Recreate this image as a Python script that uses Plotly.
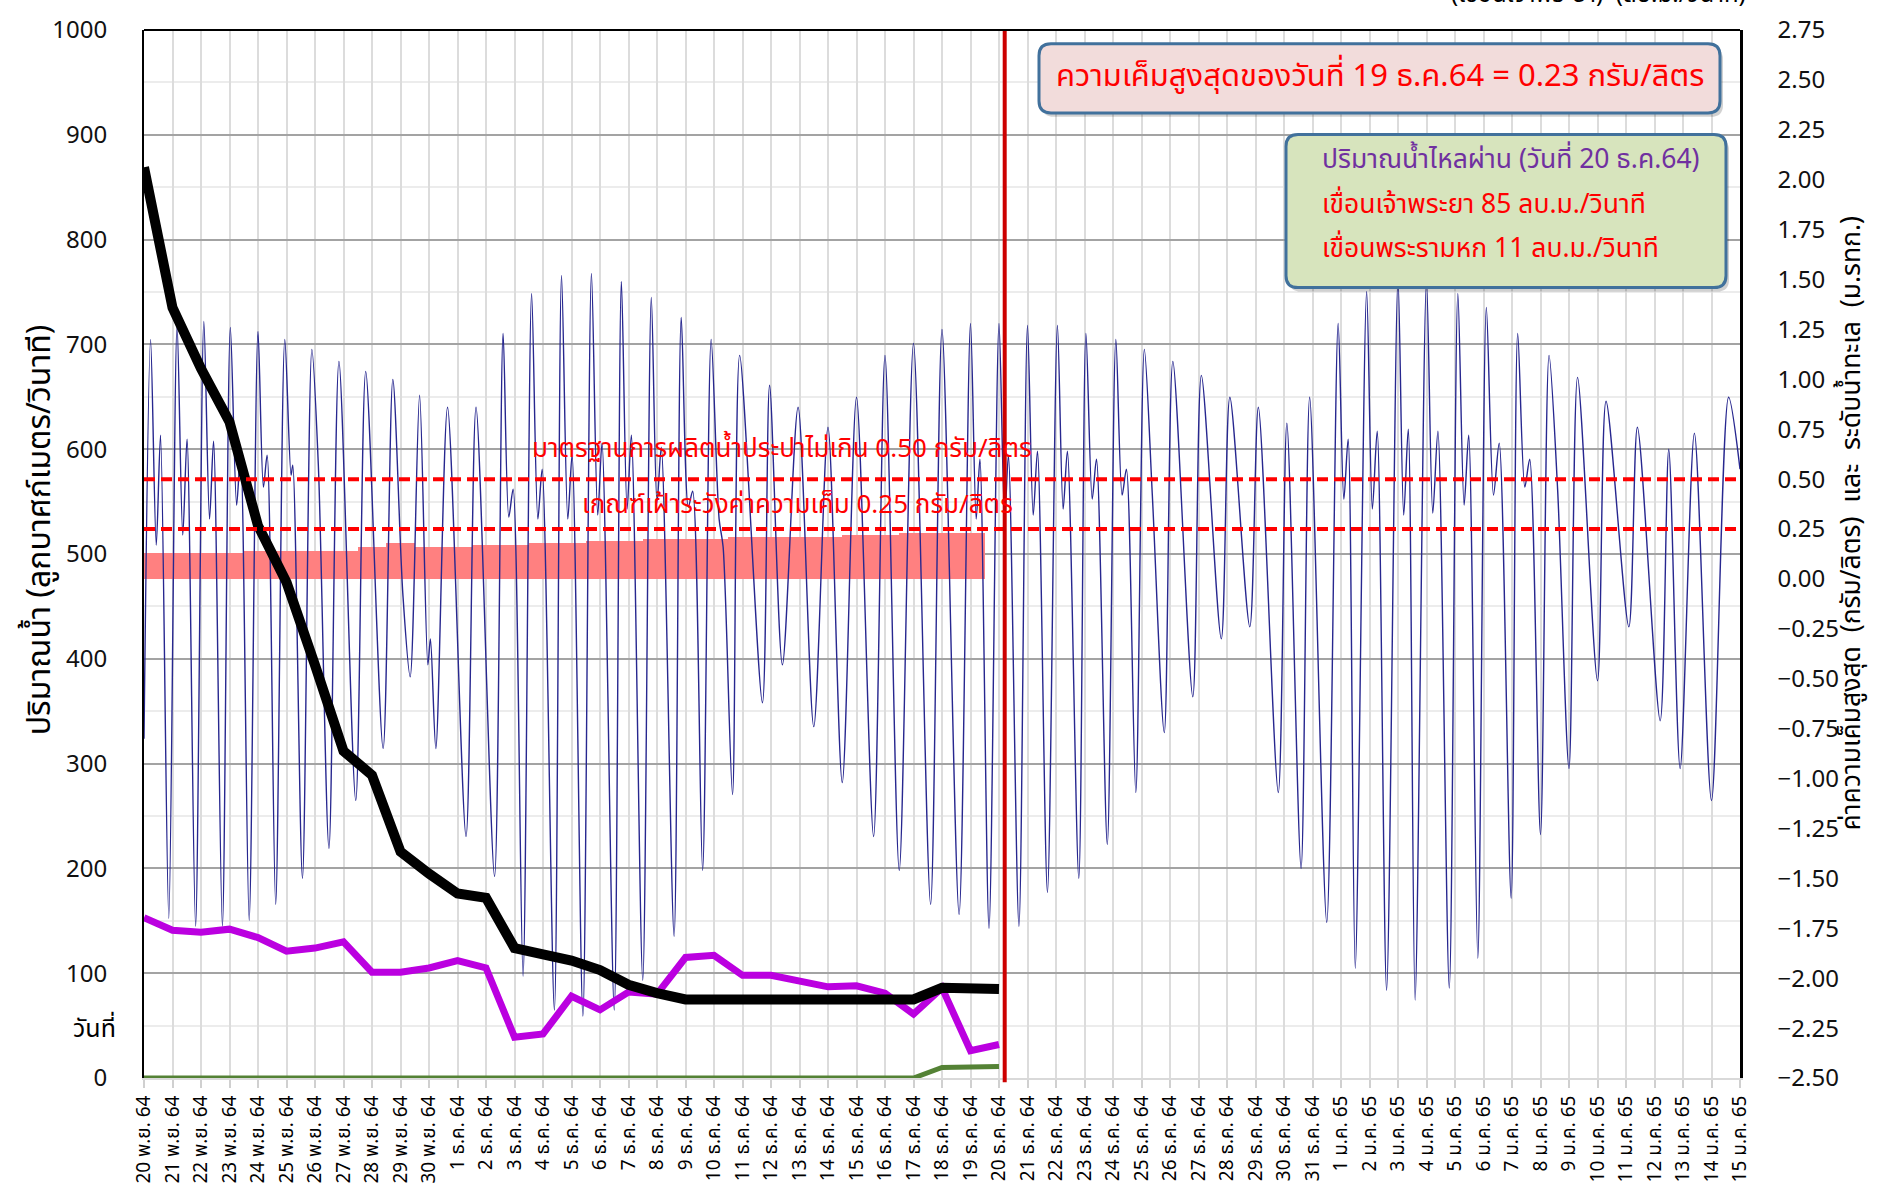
import plotly.graph_objects as go

# ---------------- calendar (20 Nov 2564 .. 15 Jan 2565) ----------------
nov_days = list(range(20, 31))
dec_days = list(range(1, 32))
jan_days = list(range(1, 16))
date_labels = ([f"{d} พ.ย. 64" for d in nov_days]
               + [f"{d} ธ.ค. 64" for d in dec_days]
               + [f"{d} ม.ค. 65" for d in jan_days])
day_index = list(range(len(date_labels)))

# ---------------- daily discharge (m3/s), 20 Nov - 20 Dec ----------------
flow_chao_phraya = [869, 735, 677, 626, 527, 473, 394, 312, 289, 216, 195,
                    176, 172, 124, 118, 112, 103, 89, 81, 75, 75, 75, 75, 75,
                    75, 75, 75, 75, 86, 85, 85]
flow_station_b = [153, 141, 139, 142, 134, 121, 124, 130, 101, 101, 105,
                  112, 105, 39, 42, 78, 65, 82, 80, 115, 117, 98, 98, 93,
                  87, 88, 81, 61, 86, 26, 32]
flow_rama6 = [0, 0, 0, 0, 0, 0, 0, 0, 0, 0, 0, 0, 0, 0, 0, 0, 0, 0, 0, 0,
              0, 0, 0, 0, 0, 0, 0, 0, 10, 10, 11]
flow_days = day_index[:len(flow_chao_phraya)]

# ---------------- daily maximum salinity (g/L), 20 Nov - 19 Dec ----------------
salinity = [0.13, 0.13, 0.13, 0.13, 0.14, 0.14, 0.14, 0.14, 0.16, 0.18,
            0.16, 0.16, 0.17, 0.17, 0.18, 0.18, 0.19, 0.19, 0.20, 0.20,
            0.20, 0.21, 0.21, 0.21, 0.21, 0.22, 0.22, 0.23, 0.23, 0.23]
salinity_days = day_index[:len(salinity)]

# ---------------- sea level turning points (day offset, m MSL) ----------------
tide_day = [0.00,
            0.23, 0.43, 0.58, 0.87,
            1.16, 1.36, 1.51, 1.81,
            2.10, 2.30, 2.44, 2.75,
            3.03, 3.25, 3.39, 3.69,
            4.00, 4.19, 4.32, 4.62,
            4.94, 5.16, 5.22, 5.56,
            5.89, 6.12, 6.49,
            6.84, 7.43,
            7.78, 8.39,
            8.73, 9.08, 9.34,
            9.67, 9.96, 10.05, 10.24,
            10.65, 11.30, 11.65, 12.30,
            12.60, 12.80, 12.95, 13.30,
            13.60, 13.82, 13.97, 14.40,
            14.65, 14.87, 15.02, 15.40,
            15.70, 15.92, 16.07, 16.50,
            16.75, 16.95, 17.10, 17.50,
            17.80, 18.00, 18.15, 18.60,
            18.85, 19.10, 19.25, 19.60,
            19.90, 20.18, 20.32, 20.65,
            20.90, 21.70, 21.95, 22.40,
            22.95, 23.50, 24.00, 24.50, 25.00, 25.60, 26.00, 26.50,
            27.00, 27.60, 28.00, 28.60,
            29.00, 29.20, 29.33, 29.65,
            30.00, 30.20, 30.33, 30.70,
            31.00, 31.20, 31.35, 31.70,
            32.05, 32.25, 32.40, 32.80,
            33.05, 33.27, 33.42, 33.80,
            34.10, 34.32, 34.47, 34.80,
            35.10, 35.38, 35.80,
            36.10, 36.80, 37.10, 37.80, 38.10, 38.80, 39.10, 39.80,
            40.10, 40.60, 40.90, 41.50,
            41.90, 42.10, 42.25, 42.50,
            42.90, 43.10, 43.27, 43.60,
            44.00, 44.20, 44.36, 44.60,
            45.00, 45.22, 45.40, 45.80,
            46.10, 46.32, 46.48, 46.80,
            47.10, 47.35, 47.55, 47.97,
            48.20, 48.45, 48.62, 49.00,
            49.30, 49.60, 50.00,
            50.30, 51.00, 51.30, 52.10, 52.40, 53.20, 53.50, 53.90,
            54.40, 55.00, 55.60, 56.00]
tide_level = [-0.80,
              1.20, 0.17, 0.72, -1.70,
              1.27, 0.22, 0.70, -1.74,
              1.29, 0.30, 0.69, -1.74,
              1.26, 0.37, 0.64, -1.71,
              1.24, 0.46, 0.62, -1.63,
              1.20, 0.52, 0.57, -1.50,
              1.15, 0.56, -1.35,
              1.09, -1.11,
              1.04, -0.85,
              1.00, -0.07, -0.49,
              0.92, -0.43, -0.30, -0.85,
              0.86, -1.29, 0.86, -1.49,
              1.23, 0.31, 0.45, -1.99,
              1.43, 0.30, 0.55, -2.16,
              1.52, 0.30, 0.62, -2.19,
              1.53, 0.32, 0.68, -2.16,
              1.49, 0.35, 0.72, -2.01,
              1.41, 0.38, 0.66, -1.79,
              1.31, 0.36, 0.44, -1.46,
              1.20, 0.30, 0.16, -1.08,
              1.12, -0.62, 0.97, -0.43,
              0.86, -0.74, 0.76, -1.02, 0.91, -1.29, 1.12, -1.46,
              1.18, -1.63, 1.25, -1.68,
              1.28, 0.30, 0.60, -1.75,
              1.28, 0.30, 0.62, -1.74,
              1.27, 0.32, 0.64, -1.57,
              1.27, 0.35, 0.64, -1.50,
              1.23, 0.40, 0.60, -1.33,
              1.20, 0.42, 0.55, -1.07,
              1.15, 0.42, -0.77,
              1.09, -0.59, 1.02, -0.30, 0.91, -0.24, 0.86, -1.07,
              0.78, -1.45, 0.91, -1.72,
              1.28, 0.40, 0.70, -1.95,
              1.44, 0.35, 0.74, -2.06,
              1.50, 0.32, 0.75, -2.11,
              1.49, 0.33, 0.74, -2.05,
              1.43, 0.37, 0.72, -1.90,
              1.36, 0.42, 0.68, -1.60,
              1.23, 0.46, 0.60, -1.28,
              1.12, 0.45, -0.95,
              1.01, -0.51, 0.89, -0.24, 0.76, -0.71, 0.65, -0.95,
              0.73, -1.11, 0.91, 0.55]

# ---------------- thresholds / reference day ----------------
limit_tap_water = 0.50
limit_watch = 0.25
report_day = 30.2

FONT = "Tahoma, 'Noto Sans Thai', 'Noto Sans', 'DejaVu Sans', sans-serif"
NUM_FONT = "'Noto Sans', Tahoma, 'DejaVu Sans', sans-serif"

W, H = 1884, 1196
L, R, T, B = 144, 144, 22, 112
PW, PH = W - L - R, H - T - B


def px(xp):
    return (xp - L) / PW


def py(yp):
    return (T + PH - yp) / PH


def rounded_box(x0, y0, x1, y1, r):
    X, Y = px, py
    return (f"M {X(x0 + r)},{Y(y0)} L {X(x1 - r)},{Y(y0)} "
            f"Q {X(x1)},{Y(y0)} {X(x1)},{Y(y0 + r)} L {X(x1)},{Y(y1 - r)} "
            f"Q {X(x1)},{Y(y1)} {X(x1 - r)},{Y(y1)} L {X(x0 + r)},{Y(y1)} "
            f"Q {X(x0)},{Y(y1)} {X(x0)},{Y(y1 - r)} L {X(x0)},{Y(y0 + r)} "
            f"Q {X(x0)},{Y(y0)} {X(x0 + r)},{Y(y0)} Z")


fig = go.Figure()

# salinity columns (right axis)
fig.add_trace(go.Bar(x=salinity_days, y=salinity, width=1.0, yaxis="y",
                     marker=dict(color="#ff8080", line=dict(width=0)),
                     hoverinfo="skip"))

# sea level (right axis)
fig.add_trace(go.Scatter(x=tide_day, y=tide_level, mode="lines", yaxis="y",
                         line=dict(color="#27278f", width=1.4,
                                   shape="spline", smoothing=0.85),
                         hoverinfo="skip"))

# discharges (left axis)
fig.add_trace(go.Scatter(x=flow_days, y=flow_rama6, mode="lines", yaxis="y2",
                         line=dict(color="#548235", width=5)))
fig.add_trace(go.Scatter(x=flow_days, y=flow_station_b, mode="lines", yaxis="y2",
                         line=dict(color="#bb00e0", width=7)))
fig.add_trace(go.Scatter(x=flow_days, y=flow_chao_phraya, mode="lines", yaxis="y2",
                         line=dict(color="#000000", width=10)))

shapes = []
# threshold lines
for lvl in (limit_tap_water, limit_watch):
    shapes.append(dict(type="line", xref="paper", x0=0, x1=1, yref="y",
                       y0=lvl, y1=lvl,
                       line=dict(color="#ff0000", width=4, dash="11px,6px")))
# report day marker
shapes.append(dict(type="line", xref="x", x0=report_day, x1=report_day,
                   yref="paper", y0=-0.004, y1=1,
                   line=dict(color="#cc0000", width=4)))
# top frame
shapes.append(dict(type="line", xref="paper", x0=0, x1=1, yref="paper",
                   y0=1, y1=1, line=dict(color="#000000", width=2)))
# salinity headline box + discharge info box (with soft shadows)
for (x0, y0, x1, y1, fill) in [(1039, 36, 1720, 106, "#f2dcdb"),
                               (1286, 128, 1726, 283, "#d7e4bd")]:
    shapes.append(dict(type="path", xref="paper", yref="paper",
                       path=rounded_box(x0 + 3, y0 + 4, x1 + 3, y1 + 4, 12),
                       fillcolor="rgba(0,0,0,0.18)", line=dict(width=0)))
    shapes.append(dict(type="path", xref="paper", yref="paper",
                       path=rounded_box(x0, y0, x1, y1, 12),
                       fillcolor=fill, line=dict(color="#41719c", width=3)))

annotations = [
    dict(text="ความเค็มสูงสุดของวันที่ 19 ธ.ค.64 = 0.23 กรัม/ลิตร",
         x=px(1380), y=py(69), font=dict(size=31, color="#ff0000")),
    dict(text="ปริมาณน้ำไหลผ่าน (วันที่ 20 ธ.ค.64)", x=px(1320), y=py(154),
         xanchor="left", font=dict(size=26.5, color="#7030a0")),
    dict(text="เขื่อนเจ้าพระยา 85 ลบ.ม./วินาที", x=px(1320), y=py(199),
         xanchor="left", font=dict(size=26.5, color="#ff0000")),
    dict(text="เขื่อนพระรามหก 11 ลบ.ม./วินาที", x=px(1320), y=py(244),
         xanchor="left", font=dict(size=26.5, color="#ff0000")),
    dict(text="มาตรฐานการผลิตน้ำประปาไม่เกิน 0.50 กรัม/ลิตร", x=px(782), y=py(447),
         font=dict(size=26, color="#ff0000")),
    dict(text="เกณฑ์เฝ้าระวังค่าความเค็ม 0.25 กรัม/ลิตร", x=px(797), y=py(503),
         font=dict(size=26, color="#ff0000")),
    dict(text="ปริมาณน้ำ (ลูกบาศก์เมตร/วินาที)", x=px(40), y=py(529),
         textangle=-90, font=dict(size=32, color="#000000")),
    dict(text="ค่าความเค็มสูงสุด  (กรัม/ลิตร)  และ  ระดับน้ำทะเล  (ม.รทก.)",
         x=px(1852), y=py(522), textangle=-90, font=dict(size=26.5, color="#000000")),
    dict(text="วันที่", x=px(94), y=py(1056), yanchor="bottom",
         font=dict(size=25, color="#000000")),
    dict(text="(เขื่อนเจ้าพระยา)  (ลบ.ม./วินาที)", x=px(1598), y=py(7),
         yanchor="bottom", font=dict(size=24, color="#000000")),
]
for a in annotations:
    a.update(xref="paper", yref="paper", showarrow=False)
    a.setdefault("xanchor", "center")
    a.setdefault("yanchor", "middle")

fig.update_layout(
    width=W, height=H,
    margin=dict(l=L, r=R, t=T, b=B, pad=0),
    paper_bgcolor="#ffffff", plot_bgcolor="#ffffff",
    showlegend=False, bargap=0,
    font=dict(family=FONT, color="#000000"),
    xaxis=dict(range=[0, 56], tickmode="array", tickvals=day_index,
               ticktext=date_labels, tickangle=-90,
               tickfont=dict(size=19, family=FONT),
               showgrid=True, gridcolor="#dcdcdc", gridwidth=1.5,
               ticks="outside", ticklen=8, tickcolor="#d0d0d0", tickwidth=1.5,
               showline=True, linecolor="#d9d9d9", linewidth=2,
               zeroline=False, fixedrange=True),
    yaxis=dict(side="right", range=[-2.5, 2.75], dtick=0.25, tick0=-2.5,
               tickformat=".2f", showgrid=False, zeroline=False,
               showline=True, linecolor="#000000", linewidth=2.5,
               ticks="", ticklabelstandoff=30,
               tickfont=dict(size=24, family=NUM_FONT, color="#111111")),
    yaxis2=dict(side="left", overlaying="y", range=[0, 1000], dtick=100,
                showgrid=True, gridcolor="#a3a3a3", gridwidth=2,
                minor=dict(dtick=50, showgrid=True, gridcolor="#ececec",
                           gridwidth=2),
                zeroline=False, showline=True, linecolor="#000000",
                linewidth=2, ticks="", ticklabelstandoff=30,
                tickfont=dict(size=24, family=NUM_FONT, color="#111111")),
    shapes=shapes,
    annotations=annotations,
)

fig.write_html("out.html")
